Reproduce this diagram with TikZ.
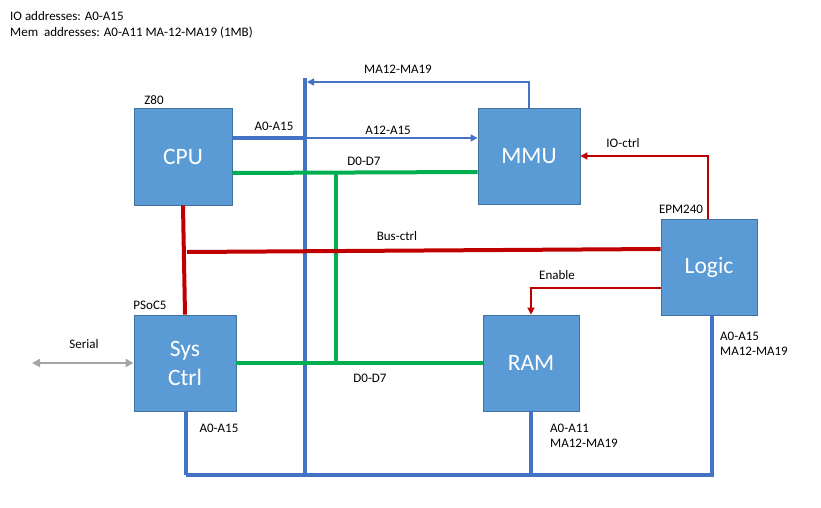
\documentclass[tikz,border=0pt]{standalone}
\usepackage{fontspec}
\setmainfont{Carlito}
\usetikzlibrary{arrows.meta}
\definecolor{boxfill}{RGB}{91, 155, 213}
\definecolor{boxline}{RGB}{65, 113, 156}
\definecolor{busblue}{RGB}{68, 114, 196}
\definecolor{busgreen}{RGB}{0, 176, 80}
\definecolor{busred}{RGB}{192, 0, 0}
\definecolor{serialgray}{RGB}{165, 165, 165}
\tikzset{
  block/.style={draw=boxline, line width=0.8pt, fill=boxfill, text=white,
                font=\fontsize{23.5}{29}\selectfont, align=center, inner sep=0pt},
  lbl/.style={font=\fontsize{13}{15.5}\selectfont, inner sep=0pt},
  addrbus/.style={busblue, line width=4pt},
  addrline/.style={busblue, line width=1.5pt, -{Triangle[length=7pt,width=7pt]}},
  databus/.style={busgreen, line width=4pt},
  ctrlbus/.style={busred, line width=4pt},
  ctrlline/.style={busred, line width=2pt, -{Triangle[length=7pt,width=7pt]}},
  serialline/.style={serialgray, line width=2pt,
                     {Triangle[length=8pt,width=8pt]}-{Triangle[length=8pt,width=8pt]}}
}
\begin{document}
\begin{tikzpicture}[x=1pt, y=-1pt]
            \useasboundingbox (0,0) rectangle (821,508);
            % Notes
            \node[lbl, anchor=west] (ionote)  at (10,16) {IO addresses: A0-A15};
            \node[lbl, anchor=west] (memnote) at (10,33) {Mem\ \ addresses: A0-A11 MA-12-MA19 (1MB)};
            % Blocks
            \node[block, minimum width=98pt,  minimum height=97pt] (cpu)   at (183,156.5) {CPU};
            \node[block, minimum width=102pt, minimum height=96pt] (mmu)   at (529,156)   {MMU};
            \node[block, minimum width=96pt,  minimum height=96pt] (logic) at (709,267)   {Logic};
            \node[block, minimum width=102pt, minimum height=96pt] (sys)   at (185,363)   {Sys\\Ctrl};
            \node[block, minimum width=96pt,  minimum height=96pt] (ram)   at (531,363)   {RAM};
            \node[lbl] (z80)    at (154,100) {Z80};
            \node[lbl] (psoc)   at (150,305) {PSoC5};
            \node[lbl] (epm)    at (681,209) {EPM240};
            % Address bus
            \coordinate (bustop) at (305,78);
            \coordinate (busbot) at (305,477);
            \coordinate (botl)   at (186,475);
            \coordinate (botr)   at (714,475);
            \coordinate (cpua)   at ([yshift=18.5pt]cpu.east);
            \coordinate (maend)  at (307,82);
            \draw[addrbus] (bustop) -- (busbot);
            \draw[addrbus] (botl) -- (botr);
            \draw[addrbus] (cpua) -- (cpua -| bustop);
            \draw[addrbus] (sys.south -| botl) -- (botl);
            \draw[addrbus] (ram.south) -- (ram.south |- botl);
            \draw[addrbus] ([xshift=3pt]logic.south) -- ([xshift=3pt]logic.south |- botl);
            \draw[addrline] (cpua -| bustop) -- (cpua -| mmu.west);
            \draw[addrline] (mmu.north) |- (maend);
            \node[lbl] (cpuaddr) at (274,126) {A0-A15};
            \node[lbl] (mmuaddr) at (388,130) {A12-A15};
            \node[lbl] (maaddr)  at (398,69)  {MA12-MA19};
            \node[lbl] (sysaddr) at (219,428) {A0-A15};
            \node[lbl, anchor=west, align=left] (ramaddr)   at (550,436) {A0-A11\\MA12-MA19};
            \node[lbl, anchor=west, align=left] (logicaddr) at (720,344) {A0-A15\\MA12-MA19};
            % Data bus
            \coordinate (dtop) at (336,172.5);
            \coordinate (dbot) at (sys.east -| dtop);
            \draw[databus] ([yshift=-16.5pt]cpu.east) -- ([yshift=-16pt]mmu.west);
            \draw[databus] (dtop) -- (dbot);
            \draw[databus] (sys.east) -- (ram.west);
            \node[lbl] (dtoplbl) at (364,161) {D0-D7};
            \node[lbl] (dbotlbl) at (370,378) {D0-D7};
            % Control
            \coordinate (busctrl) at (187,252);
            \draw[ctrlbus] (cpu.south) -- (sys.north);
            \draw[ctrlbus] ([yshift=18pt]logic.west) -- (busctrl);
            \draw[ctrlline] ([xshift=-1pt]logic.north) |- (mmu.east);
            \draw[ctrlline] ([yshift=-21pt]logic.west) -| (ram.north);
            \node[lbl] (buslbl)    at (397,236) {Bus-ctrl};
            \node[lbl] (iolbl)     at (623,143) {IO-ctrl};
            \node[lbl] (enablelbl) at (557,275) {Enable};
            % Serial
            \coordinate (serialend) at (32,363);
            \draw[serialline] (serialend) -- (sys.west);
            \node[lbl] (seriallbl) at (84,344) {Serial};
\end{tikzpicture}
\end{document}
